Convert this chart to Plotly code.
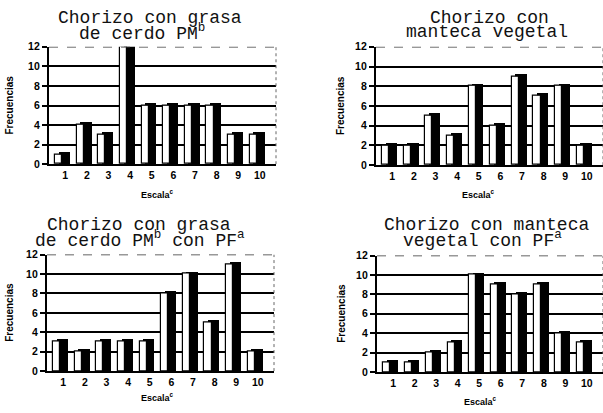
import plotly.graph_objects as go

# Frequency of scores on the 1-10 scale for each sausage formulation
escala = [1, 2, 3, 4, 5, 6, 7, 8, 9, 10]
grasa_cerdo = [1, 4, 3, 12, 6, 6, 6, 6, 3, 3]
manteca_vegetal = [2, 2, 5, 3, 8, 4, 9, 7, 8, 2]
grasa_cerdo_pf = [3, 2, 3, 3, 3, 8, 10, 5, 11, 2]
manteca_vegetal_pf = [1, 1, 2, 3, 10, 9, 8, 9, 4, 3]
y_ticks = [0, 2, 4, 6, 8, 10, 12]

W, H = 603, 413

panels = [
    dict(values=grasa_cerdo,
         title=["Chorizo con grasa", "de cerdo PM<sup>b</sup>"],
         tpos=[(150, 12), (142, 27)],
         px=(49, 276), py=(163, 42), ylab=10, xlab=(157, 194)),
    dict(values=manteca_vegetal,
         title=["Chorizo con", "manteca vegetal"],
         tpos=[(489, 12), (487, 27)],
         px=(376, 603), py=(164, 42), ylab=340, xlab=(478, 194)),
    dict(values=grasa_cerdo_pf,
         title=["Chorizo con grasa", "de cerdo PM<sup>b</sup> con PF<sup>a</sup>"],
         tpos=[(139, 226), (140, 240)],
         px=(47, 274), py=(376, 256), ylab=10, xlab=(157, 403)),
    dict(values=manteca_vegetal_pf,
         title=["Chorizo con manteca", "vegetal con PF<sup>a</sup>"],
         tpos=[(486, 226), (482, 240)],
         px=(377, 603), py=(377, 257), ylab=342, xlab=(480, 407)),
]

DEPTH = 0.3  # apparent depth of the 3-D bar tops
title_font = dict(family="Liberation Mono, Courier New, monospace", size=18, color="#111")
label_font = dict(family="Liberation Sans Narrow, Arial Narrow, Liberation Sans, sans-serif",
                  size=10, color="black", weight="bold")
tick_font = dict(family="Liberation Sans, Arial, sans-serif", size=10.5, color="black",
                 weight="bold")

fig = go.Figure()
annotations = []
shapes = []

for i, p in enumerate(panels, start=1):
    xa = "x" if i == 1 else f"x{i}"
    ya = "y" if i == 1 else f"y{i}"
    vals = p["values"]

    # dark side face of each bar, sitting behind and to the right
    fig.add_trace(go.Bar(
        x=escala, y=[v + DEPTH for v in vals], xaxis=xa, yaxis=ya,
        offset=-0.3, width=0.52, marker=dict(color="black", line=dict(width=0)),
        cliponaxis=False, showlegend=False, hoverinfo="skip"))
    # white front face
    fig.add_trace(go.Bar(
        x=escala, y=vals, xaxis=xa, yaxis=ya,
        offset=-0.47, width=0.33,
        marker=dict(color="white", line=dict(color="black", width=1.2)),
        cliponaxis=False, showlegend=False))

    x0, x1 = p["px"]
    yb, yt = p["py"]
    sfx = "" if i == 1 else str(i)
    fig.update_layout(**{
        f"xaxis{sfx}": dict(
            domain=[x0 / W, min(x1 / W, 1)], range=[0.25, 10.75], tickvals=escala,
            tickfont=tick_font,
            showgrid=False, zeroline=False, showline=True, linecolor="black",
            linewidth=2, ticks="", anchor=ya, fixedrange=True),
        f"yaxis{sfx}": dict(
            domain=[1 - yb / H, 1 - yt / H], range=[0, 12], tickvals=y_ticks,
            tickfont=tick_font,
            showgrid=True, gridcolor="black", gridwidth=1.6, zeroline=False,
            showline=True, linecolor="black", linewidth=2.2, ticks="outside",
            ticklen=5, tickwidth=1.5, tickcolor="black", anchor=xa, fixedrange=True),
    })

    # frame: dashed top edge and dotted right edge
    shapes.append(dict(type="line", xref=f"{xa} domain", yref=ya, x0=0, x1=1, y0=12, y1=12,
                       line=dict(color="#333", width=1.3, dash="dash")))
    shapes.append(dict(type="line", xref=f"{xa} domain", yref=ya, x0=1, x1=1, y0=0, y1=12,
                       line=dict(color="#666", width=1, dash="dot")))

    for line, (tx, ty) in zip(p["title"], p["tpos"]):
        annotations.append(dict(text=line, x=tx / W, y=1 - ty / H, xref="paper", yref="paper",
                                xanchor="center", yanchor="middle", showarrow=False,
                                font=title_font))
    annotations.append(dict(text="Frecuencias", x=p["ylab"] / W,
                            y=1 - (yb + yt) / 2 / H, xref="paper", yref="paper",
                            textangle=-90, xanchor="center", yanchor="middle",
                            showarrow=False, font=label_font))
    annotations.append(dict(text="Escala<sup>c</sup>", x=p["xlab"][0] / W,
                            y=1 - p["xlab"][1] / H, xref="paper", yref="paper",
                            xanchor="center", yanchor="middle", showarrow=False,
                            font=dict(family="Liberation Sans, Arial, sans-serif",
                                      size=9, color="black", weight="bold")))

fig.update_layout(
    width=W, height=H, margin=dict(l=0, r=0, t=0, b=0),
    paper_bgcolor="white", plot_bgcolor="white",
    barmode="overlay", bargap=0,
    annotations=annotations, shapes=shapes,
)

fig.write_html("out.html")
